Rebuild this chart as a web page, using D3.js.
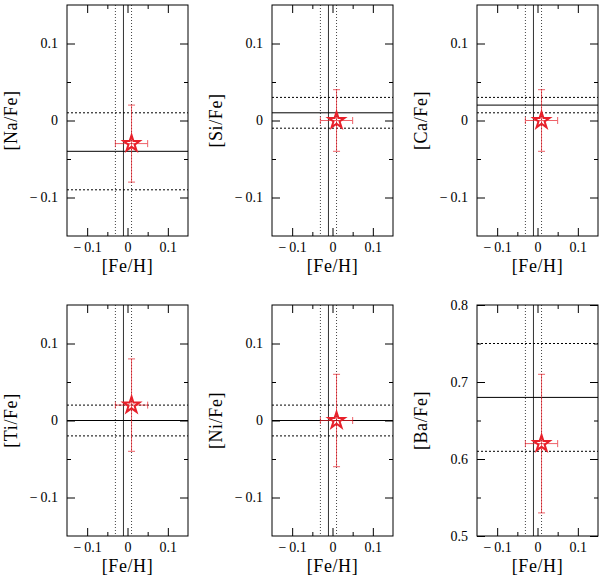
<!DOCTYPE html>
<html>
<head>
<meta charset="utf-8">
<title>Abundance panels</title>
<script src="https://cdn.jsdelivr.net/npm/d3@7"></script>
<style>
  body { margin: 0; background: #fff; }
  text { font-family: "Liberation Serif", "DejaVu Serif", serif; fill: #000; }
</style>
</head>
<body>
<svg width="600" height="578" id="mainsvg"></svg>
<script>
const svg = d3.select('#mainsvg');

// data
const elements = ['Na', 'Si', 'Ca', 'Ti', 'Ni', 'Ba'];
const starY = [-0.03, 0.00, 0.00, 0.02, 0.00, 0.62];
const starYErr = [0.05, 0.04, 0.04, 0.06, 0.06, 0.09];
const meanY = [-0.04, 0.01, 0.02, 0.00, 0.00, 0.68];
const upperY = [0.01, 0.03, 0.03, 0.02, 0.02, 0.75];
const lowerY = [-0.09, -0.01, 0.01, -0.02, -0.02, 0.61];
const yDomains = [[-0.15, 0.15], [-0.15, 0.15], [-0.15, 0.15], [-0.15, 0.15], [-0.15, 0.15], [0.5, 0.8]];
const yMajor = [[-0.1, 0, 0.1], [-0.1, 0, 0.1], [-0.1, 0, 0.1], [-0.1, 0, 0.1], [-0.1, 0, 0.1], [0.5, 0.6, 0.7, 0.8]];
const yMinor = [[-0.05, 0.05], [-0.05, 0.05], [-0.05, 0.05], [-0.05, 0.05], [-0.05, 0.05], [0.55, 0.65, 0.75]];
const xDomain = [-0.15, 0.15];
const xMajor = [-0.1, 0, 0.1];
const xMinor = [-0.05, 0.05];
const starFeH = 0.01;
const starFeHErr = 0.04;
const clusterFeH = -0.01;
const clusterFeHBand = [-0.03, 0.01];

// layout
const panelW = 121, panelH = 231;
const lefts = [67, 272, 477];
const tops = [5, 305];
const fmt = d => d === 0 ? '0' : d3.format('.1f')(d).replace('\u2212', '\u2212\u2009');

elements.forEach((el, i) => {
  const col = i % 3, row = Math.floor(i / 3);
  const g = svg.append('g').attr('transform', `translate(${lefts[col]},${tops[row]})`);
  const x = d3.scaleLinear().domain(xDomain).range([0, panelW]);
  const y = d3.scaleLinear().domain(yDomains[i]).range([panelH, 0]);

  // axes, ticks inward on all four sides
  const axes = [
    [d3.axisBottom(x), `translate(0,${panelH})`, xMajor, xMinor, true, 6],
    [d3.axisTop(x), 'translate(0,0)', xMajor, xMinor, false, 6],
    [d3.axisLeft(y), 'translate(0,0)', yMajor[i], yMinor[i], true, 9],
    [d3.axisRight(y), `translate(${panelW},0)`, yMajor[i], yMinor[i], false, 9]
  ];
  axes.forEach(([ax, tr, maj, min, lab, pad]) => {
    const a = g.append('g').attr('transform', tr)
      .call(ax.tickValues(maj).tickSizeInner(-8).tickSizeOuter(0)
        .tickPadding(pad).tickFormat(lab ? fmt : ''));
    a.select('.domain').remove();
    a.selectAll('text').attr('font-size', 14);
    const b = g.append('g').attr('transform', tr)
      .call(ax.tickValues(min).tickSizeInner(-4).tickFormat(''));
    b.select('.domain').remove();
  });

  // reference lines
  g.append('line').attr('x1', x(clusterFeH)).attr('x2', x(clusterFeH))
    .attr('y1', 0).attr('y2', panelH).attr('stroke', '#333').attr('stroke-width', 1);
  clusterFeHBand.forEach(v => {
    g.append('line').attr('x1', x(v)).attr('x2', x(v))
      .attr('y1', 0).attr('y2', panelH).attr('stroke', '#444')
      .attr('stroke-width', 1).attr('stroke-dasharray', '1,2');
  });
  g.append('line').attr('x1', 0).attr('x2', panelW)
    .attr('y1', y(meanY[i])).attr('y2', y(meanY[i])).attr('stroke', '#000').attr('stroke-width', 1);
  [upperY[i], lowerY[i]].forEach(v => {
    g.append('line').attr('x1', 0).attr('x2', panelW)
      .attr('y1', y(v)).attr('y2', y(v)).attr('stroke', '#000')
      .attr('stroke-width', 1).attr('stroke-dasharray', '2,2');
  });

  // star with error bars
  const red = '#e8202a';
  const sx = x(starFeH), sy = y(starY[i]);
  const yt = y(starY[i] + starYErr[i]), yb = y(starY[i] - starYErr[i]);
  const xl = x(starFeH - starFeHErr), xr = x(starFeH + starFeHErr);
  const eb = g.append('g').attr('stroke', red).attr('stroke-width', 1).attr('opacity', 0.7);
  eb.append('line').attr('x1', sx).attr('x2', sx).attr('y1', yt).attr('y2', yb);
  eb.append('line').attr('x1', sx - 3.5).attr('x2', sx + 3.5).attr('y1', yt).attr('y2', yt);
  eb.append('line').attr('x1', sx - 3.5).attr('x2', sx + 3.5).attr('y1', yb).attr('y2', yb);
  eb.append('line').attr('x1', xl).attr('x2', xr).attr('y1', sy).attr('y2', sy);
  eb.append('line').attr('x1', xl).attr('x2', xl).attr('y1', sy - 3.5).attr('y2', sy + 3.5);
  eb.append('line').attr('x1', xr).attr('x2', xr).attr('y1', sy - 3.5).attr('y2', sy + 3.5);

  g.append('path').attr('d', d3.symbol(d3.symbolStar, 80)())
    .attr('transform', `translate(${sx},${sy})`)
    .attr('fill', 'none').attr('stroke', red).attr('stroke-width', 2)
    .attr('stroke-linejoin', 'miter');

  // frame
  g.append('rect').attr('width', panelW).attr('height', panelH)
    .attr('fill', 'none').attr('stroke', '#000').attr('stroke-width', 1);

  // labels
  g.append('text').attr('x', panelW / 2).attr('y', panelH + 36)
    .attr('text-anchor', 'middle').attr('font-size', 18).attr('letter-spacing', 0.6)
    .text('[Fe/H]');
  g.append('text').attr('transform', `translate(-50,${panelH / 2}) rotate(-90)`)
    .attr('text-anchor', 'middle').attr('font-size', 18).attr('letter-spacing', 0.6)
    .text(`[${el}/Fe]`);
});
</script>
</body>
</html>
